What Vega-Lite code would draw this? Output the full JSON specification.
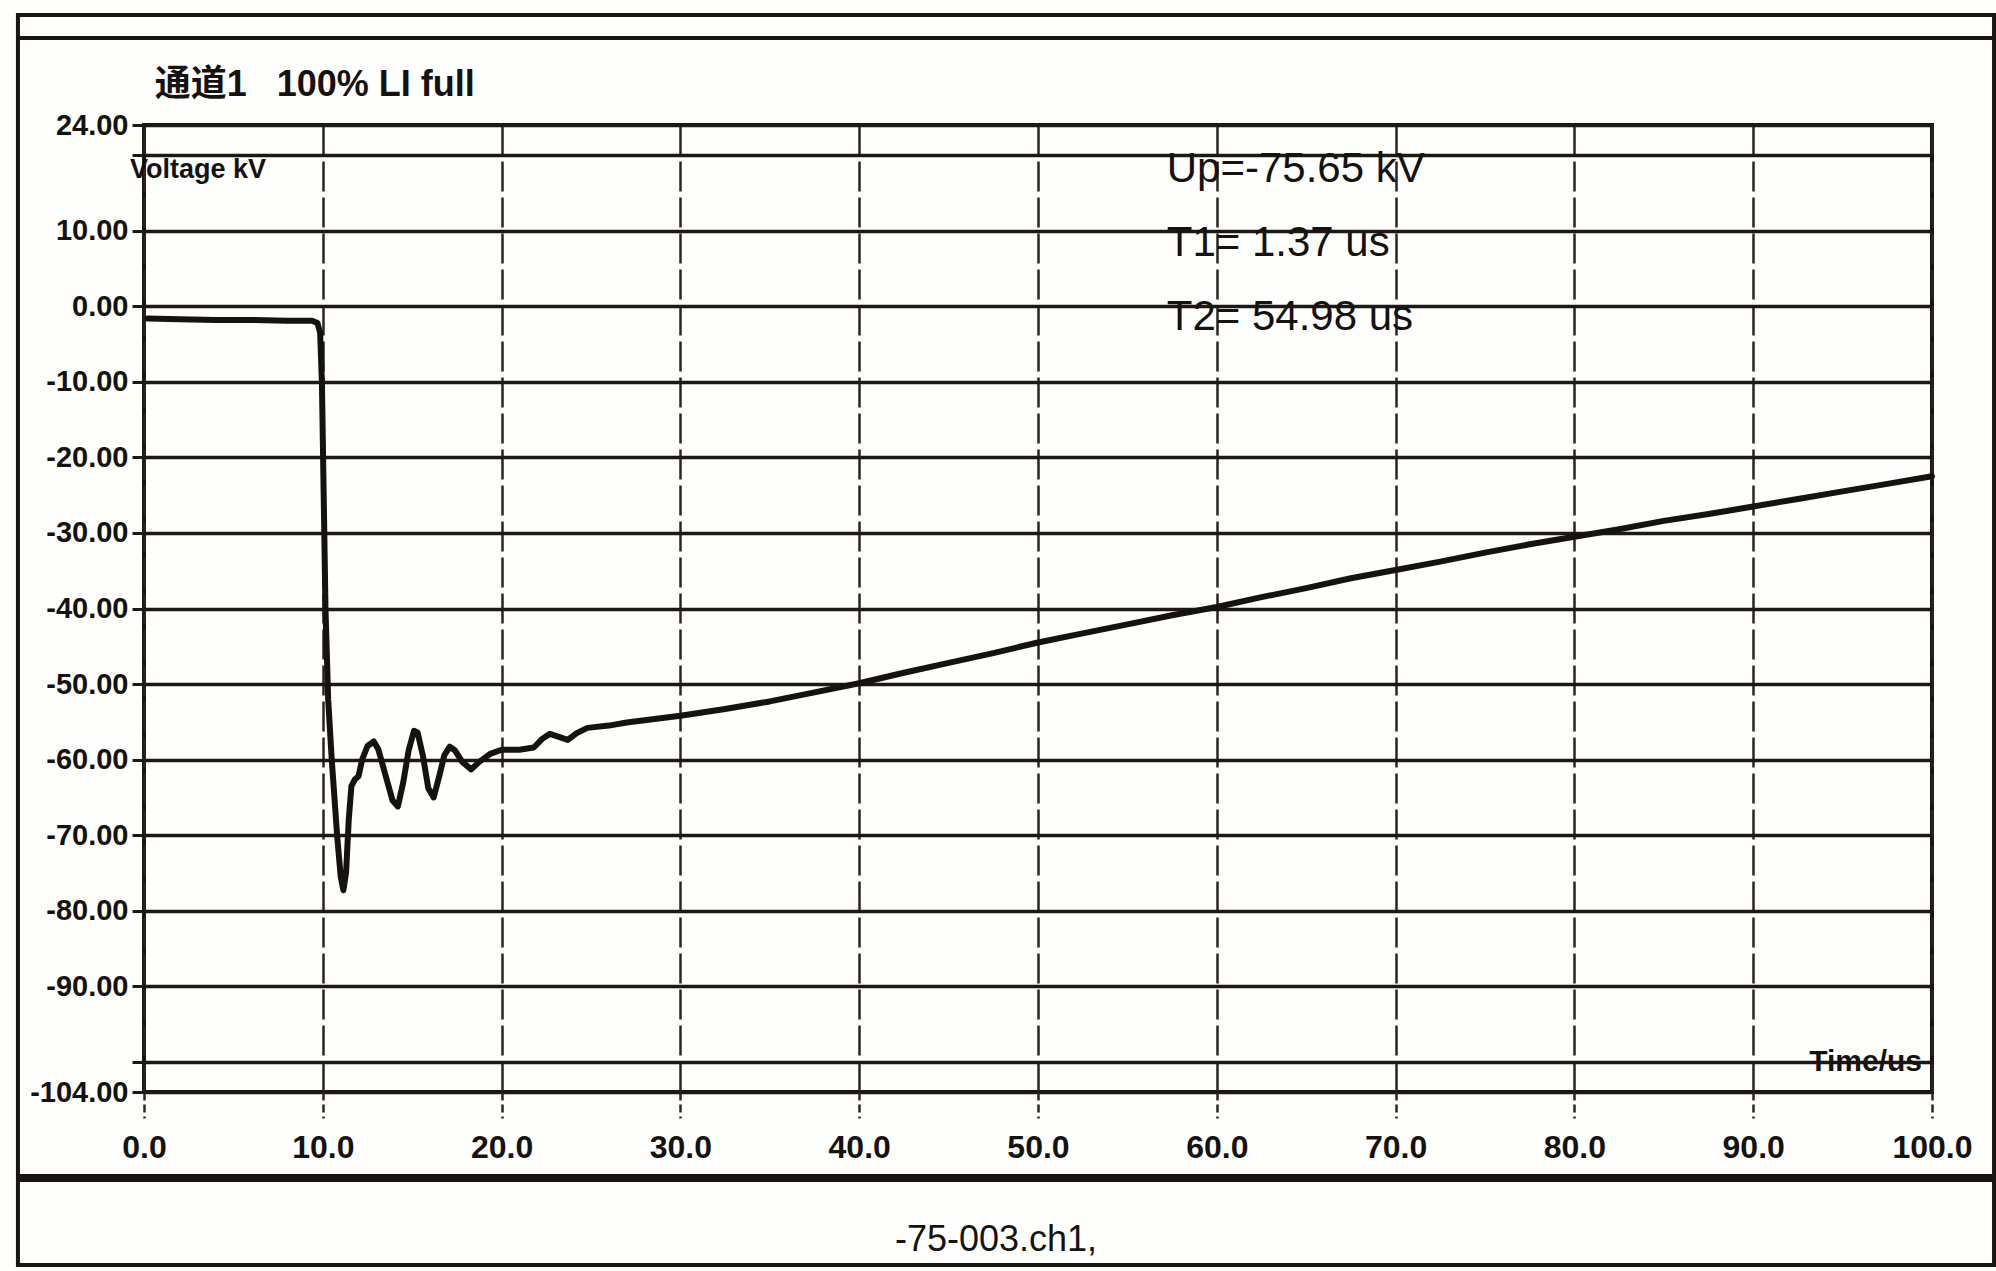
{
  "$schema": "https://vega.github.io/schema/vega-lite/v6.json",
  "width": 1788,
  "height": 967,
  "autosize": {"type": "none"},
  "padding": {"left": 144, "top": 125, "right": 64, "bottom": 179},
  "background": "#fefefd",
  "config": {
    "view": {"stroke": "#1a1512", "strokeWidth": 4},
    "font": "Liberation Sans, Arial, sans-serif"
  },
  "layer": [
    {
      "description": "page frame around the record",
      "data": {"values": [{}]},
      "mark": {"type": "rect", "fill": null, "stroke": "#1a1512", "strokeWidth": 4},
      "encoding": {
        "x": {"datum": -7.05, "type": "quantitative", "scale": {"domain": [0, 100], "nice": false, "zero": false}},
        "x2": {"datum": 103.47},
        "y": {"datum": 38.56, "type": "quantitative", "scale": {"domain": [-104, 24], "nice": false, "zero": false}},
        "y2": {"datum": -126.9}
      }
    },
    {
      "data": {"values": [{}]},
      "mark": {"type": "rule", "stroke": "#1a1512", "strokeWidth": 4},
      "encoding": {
        "x": {"datum": -7.05, "type": "quantitative"},
        "x2": {"datum": 103.47},
        "y": {"datum": 35.5, "type": "quantitative"}
      }
    },
    {
      "data": {"values": [{}]},
      "mark": {"type": "rule", "stroke": "#1a1512", "strokeWidth": 8},
      "encoding": {
        "x": {"datum": -7.05, "type": "quantitative"},
        "x2": {"datum": 103.47},
        "y": {"datum": -115.4, "type": "quantitative"}
      }
    },
    {
      "description": "channel 1 voltage record",
      "data": {
        "values": [
          {"t": 0.2, "v": -1.6}, {"t": 2, "v": -1.7}, {"t": 4, "v": -1.8}, {"t": 6, "v": -1.8},
          {"t": 8, "v": -1.9}, {"t": 9.4, "v": -1.9}, {"t": 9.7, "v": -2.2}, {"t": 9.85, "v": -3.5},
          {"t": 9.95, "v": -10}, {"t": 10.05, "v": -25}, {"t": 10.15, "v": -40}, {"t": 10.3, "v": -52},
          {"t": 10.5, "v": -60}, {"t": 10.8, "v": -70}, {"t": 11.0, "v": -75.5}, {"t": 11.15, "v": -77.3},
          {"t": 11.3, "v": -75}, {"t": 11.45, "v": -68}, {"t": 11.6, "v": -63.5}, {"t": 11.8, "v": -62.6},
          {"t": 12.0, "v": -62.2}, {"t": 12.2, "v": -60}, {"t": 12.5, "v": -58.2}, {"t": 12.85, "v": -57.6},
          {"t": 13.1, "v": -58.6}, {"t": 13.5, "v": -62}, {"t": 13.9, "v": -65.4}, {"t": 14.2, "v": -66.2},
          {"t": 14.5, "v": -63}, {"t": 14.8, "v": -58.8}, {"t": 15.1, "v": -56.2}, {"t": 15.3, "v": -56.4},
          {"t": 15.6, "v": -59.5}, {"t": 15.9, "v": -63.8}, {"t": 16.2, "v": -65}, {"t": 16.5, "v": -62.3},
          {"t": 16.8, "v": -59.4}, {"t": 17.1, "v": -58.3}, {"t": 17.4, "v": -58.8}, {"t": 17.8, "v": -60.3},
          {"t": 18.3, "v": -61.3}, {"t": 18.8, "v": -60.2}, {"t": 19.4, "v": -59.2}, {"t": 20.0, "v": -58.7},
          {"t": 21.0, "v": -58.7}, {"t": 21.8, "v": -58.4}, {"t": 22.3, "v": -57.2}, {"t": 22.7, "v": -56.6},
          {"t": 23.2, "v": -57.0}, {"t": 23.7, "v": -57.4}, {"t": 24.2, "v": -56.5}, {"t": 24.8, "v": -55.8},
          {"t": 26.0, "v": -55.5}, {"t": 27.0, "v": -55.1}, {"t": 28.0, "v": -54.8}, {"t": 29.0, "v": -54.5},
          {"t": 30.0, "v": -54.2}, {"t": 32.5, "v": -53.3}, {"t": 35, "v": -52.3}, {"t": 37.5, "v": -51.1},
          {"t": 40, "v": -49.9}, {"t": 42.5, "v": -48.5}, {"t": 45, "v": -47.2}, {"t": 47.5, "v": -45.9},
          {"t": 50, "v": -44.5}, {"t": 52.5, "v": -43.3}, {"t": 55, "v": -42.1}, {"t": 57.5, "v": -40.9},
          {"t": 60, "v": -39.8}, {"t": 62.5, "v": -38.5}, {"t": 65, "v": -37.3}, {"t": 67.5, "v": -36.0},
          {"t": 70, "v": -34.9}, {"t": 72.5, "v": -33.8}, {"t": 75, "v": -32.6}, {"t": 77.5, "v": -31.5},
          {"t": 80, "v": -30.5}, {"t": 82.5, "v": -29.5}, {"t": 85, "v": -28.4}, {"t": 87.5, "v": -27.5},
          {"t": 90, "v": -26.5}, {"t": 92.5, "v": -25.5}, {"t": 95, "v": -24.5}, {"t": 97.5, "v": -23.5},
          {"t": 100, "v": -22.5}
        ]
      },
      "mark": {"type": "line", "stroke": "#161210", "strokeWidth": 6, "strokeJoin": "round", "strokeCap": "round"},
      "encoding": {
        "x": {
          "field": "t",
          "type": "quantitative",
          "scale": {"domain": [0, 100], "nice": false, "zero": false},
          "axis": {
            "title": null,
            "values": [0, 10, 20, 30, 40, 50, 60, 70, 80, 90, 100],
            "format": ".1f",
            "domain": false,
            "grid": true,
            "gridColor": "#2b2420",
            "gridWidth": 2.5,
            "gridDash": [30, 6],
            "gridOpacity": 1,
            "ticks": true,
            "tickSize": 26,
            "tickWidth": 2.5,
            "tickDash": [8, 4],
            "tickColor": "#2b2420",
            "labelPadding": 14,
            "labelFontSize": 32,
            "labelFontWeight": "bold",
            "labelColor": "#161210",
            "labelFlush": false
          }
        },
        "y": {
          "field": "v",
          "type": "quantitative",
          "scale": {"domain": [-104, 24], "nice": false, "zero": false},
          "axis": {
            "title": null,
            "values": [24, 20, 10, 0, -10, -20, -30, -40, -50, -60, -70, -80, -90, -100, -104],
            "labelExpr": "datum.value == 20 || datum.value == -100 ? '' : (datum.value < 0 ? '-' + format(-datum.value, '.2f') : format(datum.value, '.2f'))",
            "domain": false,
            "grid": true,
            "gridColor": "#1e1814",
            "gridWidth": 3.5,
            "gridOpacity": 1,
            "ticks": true,
            "tickSize": 12,
            "tickWidth": 3,
            "tickColor": "#1e1814",
            "labelPadding": 4,
            "labelFontSize": 29,
            "labelFontWeight": "bold",
            "labelColor": "#161210",
            "labelFlush": false
          }
        }
      }
    },
    {
      "description": "channel caption",
      "data": {"values": [{}]},
      "mark": {
        "type": "text",
        "text": "通道1\u00a0\u00a0\u00a0100% LI full",
        "font": "Liberation Sans, Noto Sans CJK SC, sans-serif",
        "align": "left",
        "baseline": "middle",
        "fontSize": 36,
        "fontWeight": "bold",
        "color": "#161210"
      },
      "encoding": {
        "x": {"datum": 0.6, "type": "quantitative"},
        "y": {"datum": 29.3, "type": "quantitative"}
      }
    },
    {
      "data": {"values": [{}]},
      "mark": {
        "type": "text",
        "text": ["Up=-75.65 kV", "T1= 1.37 us", "T2= 54.98 us"],
        "align": "left",
        "baseline": "alphabetic",
        "lineHeight": 74,
        "fontSize": 42,
        "color": "#161210"
      },
      "encoding": {
        "x": {"datum": 57.2, "type": "quantitative"},
        "y": {"datum": 16.46, "type": "quantitative"}
      }
    },
    {
      "data": {"values": [{}]},
      "mark": {"type": "text", "text": "Voltage kV", "align": "left", "baseline": "middle", "fontSize": 27, "fontWeight": "bold", "color": "#161210"},
      "encoding": {
        "x": {"datum": -0.78, "type": "quantitative"},
        "y": {"datum": 18.0, "type": "quantitative"}
      }
    },
    {
      "data": {"values": [{}]},
      "mark": {"type": "text", "text": "Time/us", "align": "right", "baseline": "middle", "dx": -10, "fontSize": 30, "fontWeight": "bold", "color": "#161210"},
      "encoding": {
        "x": {"datum": 100, "type": "quantitative"},
        "y": {"datum": -100, "type": "quantitative"}
      }
    },
    {
      "data": {"values": [{}]},
      "mark": {"type": "text", "text": "-75-003.ch1,", "align": "center", "baseline": "middle", "fontSize": 36, "color": "#161210"},
      "encoding": {
        "x": {"datum": 47.65, "type": "quantitative"},
        "y": {"datum": -123.6, "type": "quantitative"}
      }
    }
  ]
}
